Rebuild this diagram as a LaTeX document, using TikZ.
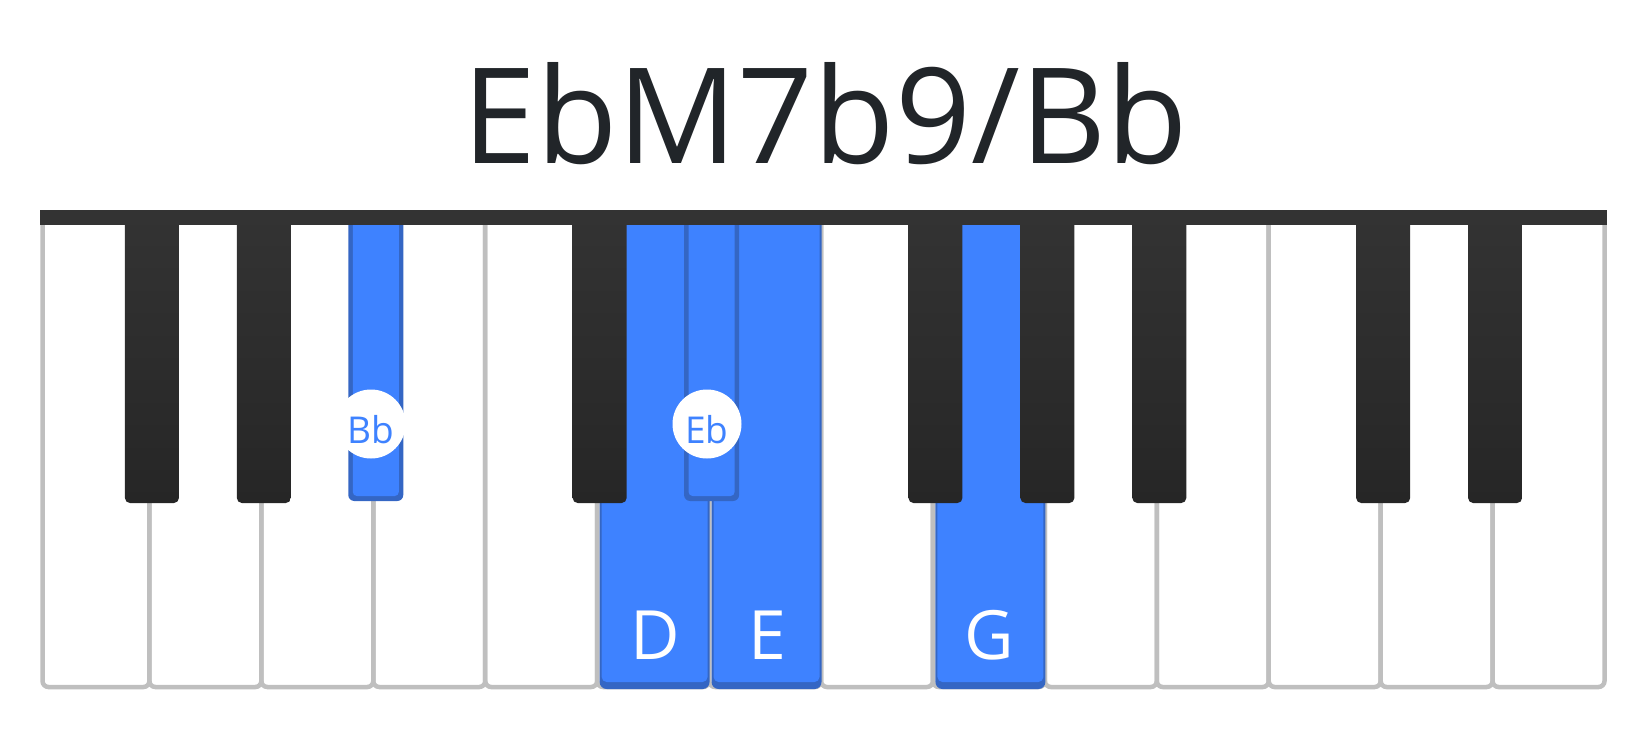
\documentclass[tikz,border=0pt]{standalone}
\usepackage{fontspec}
\setmainfont{Open Sans}
\definecolor{keyblue}{HTML}{3E82FF}
\definecolor{keyedge}{HTML}{3466C4}
\definecolor{keygray}{HTML}{BFBFBF}
\definecolor{keybar}{HTML}{333333}
\definecolor{keydark}{HTML}{262626}
\definecolor{titleink}{HTML}{212529}
\tikzset{
  whitekey/.style={draw=keygray, line width=4.5pt, rounded corners=6pt},
  blackkey/.style={top color=keybar, bottom color=keydark, rounded corners=5pt},
  notedot/.style={circle, fill=white, minimum size=69pt, inner sep=0pt},
  notename/.style={text=keyblue, font=\fontsize{37}{40}\selectfont, anchor=base},
  keyname/.style={text=white, font=\fontsize{68}{70}\selectfont, anchor=base}
}

\begin{document}
\begin{tikzpicture}[x=1pt, y=-1pt]
\useasboundingbox (0,0) rectangle (1650,740);
\def\kw{111.93}
% white keys
\foreach \i in {0,...,13} {
  \pgfmathsetmacro{\kl}{\i==0 ? 42.5 : 40+\i*\kw-2.5}
  \pgfmathsetmacro{\kr}{40+(\i+1)*\kw-2.5}
  \draw[whitekey] (\kl,212) -- (\kl,687) -- (\kr,687) -- (\kr,212);
}
% highlighted white keys: D, E, G
\foreach \i in {5,6,8} {
  \fill[keyedge, rounded corners=7pt] (40+\i*\kw, 212) rectangle (40+\i*\kw+\kw-2, 689);
  \fill[keyblue, rounded corners=5pt] (40+\i*\kw+2, 212) rectangle (40+\i*\kw+\kw-4, 682);
}
% black keys
\foreach \i in {1,2,5,8,9,10,12,13}
  \shade[blackkey] (40+\i*\kw-27, 212) rectangle (40+\i*\kw+27, 503);
% highlighted black keys: Bb, Eb
\foreach \i in {3,6} {
  \fill[keyedge, rounded corners=6pt] (40+\i*\kw-27.5, 212) rectangle (40+\i*\kw+27.5, 501);
  \fill[keyblue, rounded corners=4pt] (40+\i*\kw-23, 212) rectangle (40+\i*\kw+23, 496);
}
% top bar
\fill[keybar] (40,210) rectangle (1607,225);
% note labels
\node[notedot] (dotBb) at (371,424) {};
\node[notename] (lblBb) at (371,443) {Bb};
\node[notedot] (dotEb) at (707,424) {};
\node[notename] (lblEb) at (707,443) {Eb};
\node[keyname] (lblD) at (655,659) {D};
\node[keyname] (lblE) at (767,659) {E};
\node[keyname] (lblG) at (989,659) {G};
% chord name
\node[text=titleink, font=\fontsize{133}{140}\selectfont, anchor=base] (title) at (825,163) {EbM7b9/Bb};
\end{tikzpicture}
\end{document}
